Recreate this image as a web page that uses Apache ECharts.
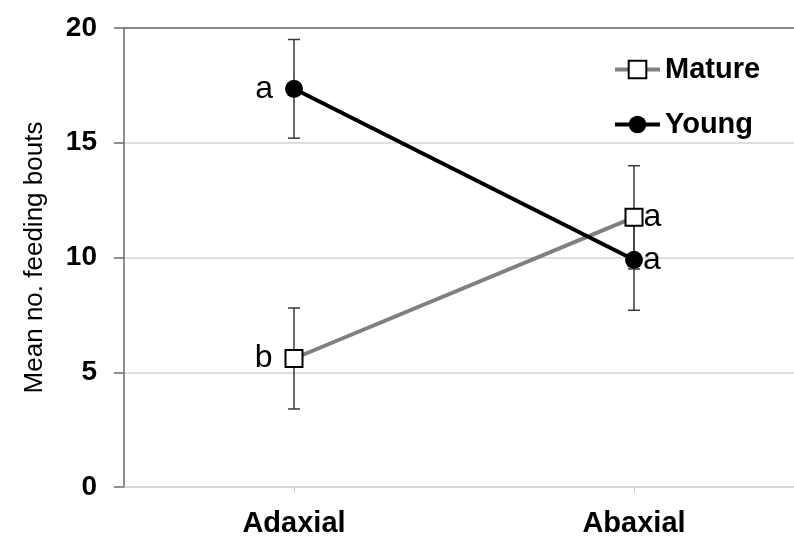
<!DOCTYPE html>
<html>
<head>
<meta charset="utf-8">
<script src="https://cdn.jsdelivr.net/npm/echarts@6/dist/echarts.min.js"></script>
<style>
  html, body { margin: 0; padding: 0; background: #ffffff; }
  #chart { width: 794px; height: 536px; }
</style>
</head>
<body>
<div id="chart"></div>
<script>
// Leaf surface categories
const categories = ['Adaxial', 'Abaxial'];

// Mean number of feeding bouts and error (± half-length of bar)
const matureMean = [5.6, 11.75];
const matureErr = [2.2, 2.25];
const youngMean = [17.35, 9.9];
const youngErr = [2.15, 2.2];

// Significance letters beside each point
const matureLetters = ['b', 'a'];
const youngLetters = ['a', 'a'];

// Y-axis ticks
const yTicks = [0, 5, 10, 15, 20];

const FONT = 'Liberation Sans, Arial, sans-serif';

function lineData(means, letters) {
  return means.map((v, i) => ({
    value: v,
    label: {
      formatter: letters[i],
      position: i === 0 ? 'left' : 'right',
      distance: i === 0 ? 12 : 0
    }
  }));
}

function errData(means, errs) {
  return means.map((v, i) => [i, v - errs[i], v + errs[i]]);
}

function renderErr(params, api) {
  const cx = api.value(0);
  const lo = api.coord([cx, api.value(1)]);
  const hi = api.coord([cx, api.value(2)]);
  const cap = 6;
  const style = { stroke: '#3a3a3a', lineWidth: 1.5 };
  return {
    type: 'group',
    children: [
      { type: 'line', shape: { x1: lo[0], y1: lo[1], x2: hi[0], y2: hi[1] }, style },
      { type: 'line', shape: { x1: lo[0] - cap, y1: lo[1], x2: lo[0] + cap, y2: lo[1] }, style },
      { type: 'line', shape: { x1: hi[0] - cap, y1: hi[1], x2: hi[0] + cap, y2: hi[1] }, style }
    ]
  };
}

const chart = echarts.init(document.getElementById('chart'), null, { renderer: 'canvas' });

chart.setOption({
  backgroundColor: '#ffffff',
  animation: false,
  textStyle: { fontFamily: FONT },
  grid: { left: 124, right: -10, top: 28, bottom: 49, outerBoundsMode: 'none', containLabel: false },
  legend: {
    orient: 'vertical',
    left: 608,
    top: 50,
    itemWidth: 45,
    itemHeight: 22,
    itemGap: 26,
    data: ['Mature', 'Young'],
    lineStyle: { width: 4 },
    textStyle: { fontFamily: FONT, fontSize: 29, fontWeight: 'bold', color: '#000' }
  },
  xAxis: [
    {
      type: 'category',
      data: categories,
      boundaryGap: true,
      axisLine: { show: true, lineStyle: { color: '#d4d4d4', width: 1.5 } },
      axisTick: { show: true, alignWithLabel: true, length: 6, lineStyle: { color: '#c8c8c8' } },
      axisLabel: { margin: 22, fontFamily: FONT, fontSize: 29, fontWeight: 'bold', color: '#000' }
    },
    {
      type: 'category',
      data: categories,
      position: 'top',
      axisLine: { show: true, lineStyle: { color: '#6a6a6a', width: 1.5 } },
      axisTick: { show: false },
      axisLabel: { show: false }
    }
  ],
  yAxis: {
    type: 'value',
    min: yTicks[0],
    max: yTicks[yTicks.length - 1],
    interval: yTicks[1] - yTicks[0],
    name: 'Mean no. feeding bouts',
    nameLocation: 'middle',
    nameGap: 76,
    nameTextStyle: { fontFamily: FONT, fontSize: 26, color: '#000' },
    axisLine: { show: true, lineStyle: { color: '#6a6a6a', width: 1.5 } },
    axisTick: { show: true, length: 10, lineStyle: { color: '#6a6a6a', width: 1.5 } },
    axisLabel: { margin: 27, fontFamily: FONT, fontSize: 28, fontWeight: 'bold', color: '#000' },
    splitLine: { show: true, lineStyle: { color: '#d4d4d4', width: 1.5 } }
  },
  series: [
    {
      type: 'custom',
      name: 'MatureErr',
      renderItem: renderErr,
      data: errData(matureMean, matureErr),
      z: 1,
      silent: true
    },
    {
      type: 'custom',
      name: 'YoungErr',
      renderItem: renderErr,
      data: errData(youngMean, youngErr),
      z: 1,
      silent: true
    },
    {
      name: 'Mature',
      type: 'line',
      data: lineData(matureMean, matureLetters),
      symbol: 'rect',
      symbolSize: 17,
      lineStyle: { color: '#808080', width: 4 },
      itemStyle: { color: '#ffffff', borderColor: '#000', borderWidth: 2 },
      label: { show: true, fontFamily: FONT, fontSize: 32, color: '#000' },
      z: 2
    },
    {
      name: 'Young',
      type: 'line',
      data: lineData(youngMean, youngLetters),
      symbol: 'circle',
      symbolSize: 18,
      lineStyle: { color: '#000000', width: 4 },
      itemStyle: { color: '#000000', borderColor: '#000', borderWidth: 0 },
      label: { show: true, fontFamily: FONT, fontSize: 32, color: '#000' },
      z: 3
    }
  ]
});
</script>
</body>
</html>
